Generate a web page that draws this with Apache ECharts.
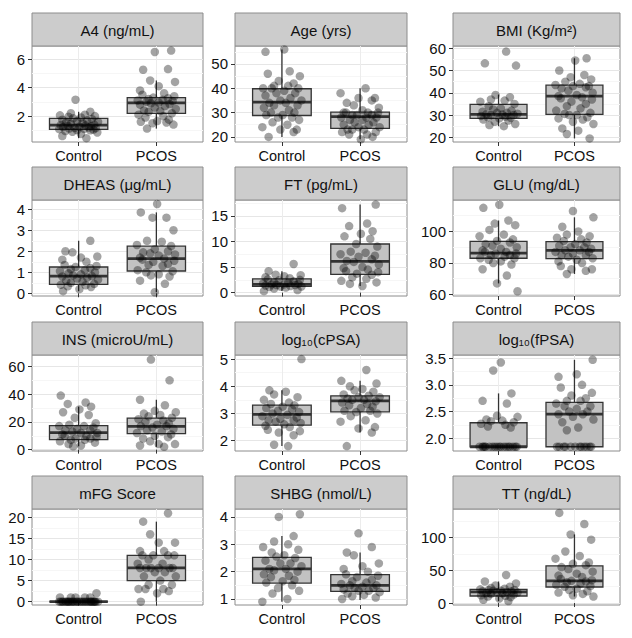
<!DOCTYPE html>
<html><head><meta charset="utf-8">
<script src="https://cdn.jsdelivr.net/npm/echarts@6/dist/echarts.min.js"></script>
<style>html,body{margin:0;padding:0;background:#fff}#c{width:632px;height:638px}</style>
</head><body><div id="c"></div>
<script>
// ---------- data ----------
const categories = ['Control', 'PCOS'];
const panelTitles = ['A4 (ng/mL)', 'Age (yrs)', 'BMI (Kg/m²)', 'DHEAS (μg/mL)', 'FT (pg/mL)', 'GLU (mg/dL)',
  'INS (microU/mL)', 'log₁₀(cPSA)', 'log₁₀(fPSA)', 'mFG Score', 'SHBG (nmol/L)', 'TT (ng/dL)'];
const yMin = [0.18, 17.9, 17.9, -0.13, -0.66, 59.0, -1.0, 1.62, 1.76, -0.8, 0.78, -3];
const yMax = [6.92, 57.4, 61.0, 4.44, 18.1, 120.0, 68.3, 5.15, 3.56, 22.0, 4.29, 144];
const yTicks = [[2, 4, 6], [20, 30, 40, 50], [20, 30, 40, 50, 60], [0, 1, 2, 3, 4], [0, 5, 10, 15], [60, 80, 100],
  [0, 20, 40, 60], [2, 3, 4, 5], [2.0, 2.5, 3.0, 3.5], [0, 5, 10, 15, 20], [1, 2, 3, 4], [0, 50, 100]];
const yTickDecimals = [0, 0, 0, 0, 0, 0, 0, 0, 1, 0, 0, 0];

// box stats per group: [lower whisker, Q1, median, Q3, upper whisker]
const A4_box = [[0.45, 1.07, 1.37, 1.84, 2.3], [1.12, 2.19, 2.93, 3.29, 4.5]];
const A4_control = [0.45, 0.6, 0.75, 0.85, 0.9, 0.95, 1.0, 1.02, 1.05, 1.08, 1.1, 1.12, 1.15, 1.18, 1.2, 1.22, 1.25, 1.3, 1.32, 1.35, 1.37, 1.4, 1.45, 1.5, 1.55, 1.6, 1.65, 1.7, 1.75, 1.8, 1.85, 1.9, 1.95, 2.0, 2.05, 2.1, 2.2, 2.3, 3.15];
const A4_pcos = [1.12, 1.4, 1.5, 1.55, 1.6, 1.65, 1.75, 1.9, 2.0, 2.1, 2.2, 2.3, 2.35, 2.4, 2.5, 2.6, 2.7, 2.8, 2.85, 2.9, 2.95, 3.0, 3.05, 3.1, 3.15, 3.2, 3.25, 3.3, 3.4, 3.5, 3.6, 3.8, 4.1, 4.4, 4.5, 5.25, 5.3, 6.5, 6.6];

const Age_box = [[20, 28.8, 34.3, 39.8, 56], [19, 23.5, 28.3, 30.2, 40]];
const Age_control = [20, 22, 23, 23, 24, 25, 26, 27, 28, 28, 29, 29, 30, 30, 31, 32, 33, 33, 34, 34, 35, 35, 36, 37, 38, 38, 39, 40, 40, 40, 41, 41, 42, 43, 45, 46, 47, 55, 56];
const Age_pcos = [19, 20, 21, 21, 22, 22, 23, 23, 23, 24, 24, 25, 25, 26, 26, 27, 27, 28, 28, 28, 29, 29, 29, 30, 30, 30, 30, 31, 32, 33, 34, 35, 36, 36, 38, 40];

const BMI_box = [[25, 28.5, 30.3, 34.8, 39.2], [19.5, 30.3, 38.5, 43.4, 55.5]];
const BMI_control = [25, 25.5, 26, 27, 27.5, 28, 28.5, 28.8, 29, 29.3, 29.6, 30, 30, 30.2, 30.4, 30.6, 31, 31, 31.5, 32, 32.5, 33, 34, 35, 36, 36.5, 37, 38, 39, 52.2, 53.2, 58.5];
const BMI_pcos = [19.5, 21.5, 23, 24, 26, 27, 28, 28.5, 29, 30, 30, 30.5, 31, 32, 33, 34, 35, 36, 37, 37.5, 38, 38.5, 39, 40, 41, 42, 42.5, 43, 43, 43.5, 44, 45, 46, 47, 48, 50, 54.5, 55.5];

const DHEAS_box = [[0.1, 0.42, 0.82, 1.25, 2.5], [0.05, 1.06, 1.65, 2.24, 3.85]];
const DHEAS_control = [0.1, 0.2, 0.3, 0.33, 0.38, 0.4, 0.45, 0.5, 0.55, 0.6, 0.65, 0.7, 0.75, 0.8, 0.82, 0.85, 0.9, 0.95, 1.0, 1.05, 1.1, 1.15, 1.2, 1.25, 1.3, 1.35, 1.5, 1.6, 1.7, 1.75, 1.95, 2.0, 2.5];
const DHEAS_pcos = [0.05, 0.45, 0.6, 0.8, 0.85, 0.9, 1.0, 1.05, 1.1, 1.3, 1.35, 1.4, 1.5, 1.55, 1.6, 1.65, 1.7, 1.8, 1.85, 1.9, 1.95, 2.0, 2.1, 2.25, 2.3, 2.45, 2.5, 3.0, 3.6, 3.6, 3.85, 4.25];

const FT_box = [[0.3, 1.22, 1.6, 2.7, 4.2], [1.3, 3.55, 6.1, 9.5, 17.2]];
const FT_control = [0.3, 0.5, 0.8, 1.0, 1.1, 1.2, 1.2, 1.3, 1.4, 1.5, 1.5, 1.6, 1.6, 1.7, 1.8, 1.9, 2.0, 2.2, 2.4, 2.5, 2.6, 2.8, 3.0, 3.2, 3.4, 3.5, 4.2, 5.6];
const FT_pcos = [1.3, 1.7, 2.0, 2.3, 2.7, 3.0, 3.5, 3.7, 4.0, 4.2, 4.5, 4.8, 5.0, 5.5, 6.0, 6.2, 6.5, 7.0, 7.2, 7.5, 7.8, 8.0, 9.0, 9.5, 10.5, 11.0, 11.5, 12.0, 13.0, 13.5, 16.5, 17.2];

const GLU_box = [[67, 83, 86.3, 93.7, 107], [73, 82.8, 88, 93.5, 109]];
const GLU_control = [62, 67, 72, 76, 79, 80, 81, 82, 83, 83, 84, 85, 85, 86, 86, 87, 87, 88, 89, 90, 91, 92, 93, 94, 95, 97, 98, 101, 104, 105, 107, 115, 117];
const GLU_pcos = [73, 75, 76, 76, 78, 80, 81, 82, 83, 84, 85, 85, 86, 87, 87, 88, 88, 89, 90, 90, 91, 92, 93, 94, 95, 96, 97, 98, 100, 103, 109, 113];

const INS_box = [[2.4, 7.2, 12.2, 17.3, 31], [2, 11.5, 16.8, 22.8, 36]];
const INS_control = [2.4, 3, 4, 5, 6, 7, 7, 8, 8, 9, 10, 10, 11, 12, 12, 13, 14, 14, 15, 16, 17, 17, 18, 19, 23, 25, 27, 29, 31, 33, 34, 39];
const INS_pcos = [2, 3, 4, 4, 6, 8, 9, 10, 11, 12, 13, 14, 15, 16, 17, 17, 18, 19, 20, 21, 22, 23, 24, 25, 26, 27, 28, 32, 36, 50, 65];

const cPSA_box = [[1.8, 2.57, 2.97, 3.31, 3.85], [2.3, 3.06, 3.46, 3.65, 4.2]];
const cPSA_control = [1.8, 1.85, 2.2, 2.3, 2.35, 2.4, 2.5, 2.55, 2.6, 2.65, 2.7, 2.75, 2.75, 2.8, 2.85, 2.9, 2.95, 3.0, 3.05, 3.1, 3.15, 3.2, 3.25, 3.3, 3.35, 3.4, 3.5, 3.6, 3.7, 3.8, 3.85, 5.0];
const cPSA_pcos = [1.8, 2.3, 2.45, 2.5, 2.7, 2.75, 2.9, 3.0, 3.05, 3.1, 3.1, 3.2, 3.25, 3.3, 3.35, 3.4, 3.45, 3.5, 3.5, 3.55, 3.6, 3.6, 3.65, 3.7, 3.8, 3.85, 3.9, 4.0, 4.1, 4.2, 4.6];

const fPSA_box = [[1.84, 1.84, 1.84, 2.29, 2.84], [1.84, 1.84, 2.45, 2.67, 3.47]];
const fPSA_control = [1.84, 1.84, 1.84, 1.84, 1.84, 1.84, 1.84, 1.84, 1.84, 1.84, 1.84, 1.84, 1.84, 1.84, 1.84, 1.84, 1.84, 1.84, 2.2, 2.22, 2.25, 2.27, 2.3, 2.32, 2.33, 2.35, 2.4, 2.42, 2.65, 2.7, 2.84, 3.27, 3.42];
const fPSA_pcos = [1.84, 1.84, 1.84, 1.84, 1.84, 1.84, 1.84, 1.84, 1.84, 1.84, 1.84, 1.84, 2.15, 2.2, 2.3, 2.35, 2.4, 2.45, 2.45, 2.5, 2.5, 2.55, 2.6, 2.6, 2.65, 2.7, 2.7, 2.75, 2.8, 2.85, 2.95, 3.0, 3.15, 3.2, 3.47];

const mFG_box = [[0, 0, 0, 0, 0], [0, 5, 8, 11, 19]];
const mFG_control = [0, 0, 0, 0, 0, 0, 0, 0, 0, 0, 0, 0, 0, 0, 0, 0, 0, 0, 0, 0, 0, 0, 0, 0, 0, 0, 0, 0, 0, 0, 1, 1, 1, 1, 1, 2];
const mFG_pcos = [0, 2, 2.5, 3, 3, 3, 4, 4, 5, 6, 6, 7, 7, 8, 8, 8, 8, 8, 8, 9, 9, 10, 11, 11, 11, 11, 12, 12, 14, 14, 16, 19, 21];

const SHBG_box = [[0.9, 1.58, 2.1, 2.52, 3.3], [0.96, 1.28, 1.5, 1.89, 2.7]];
const SHBG_control = [0.9, 1.0, 1.2, 1.3, 1.4, 1.5, 1.6, 1.65, 1.7, 1.8, 1.85, 1.9, 2.0, 2.05, 2.1, 2.1, 2.2, 2.3, 2.3, 2.4, 2.5, 2.55, 2.6, 2.7, 2.8, 2.9, 3.0, 3.1, 3.3, 4.0, 4.1];
const SHBG_pcos = [1.0, 1.05, 1.1, 1.15, 1.2, 1.25, 1.3, 1.3, 1.35, 1.4, 1.4, 1.45, 1.5, 1.5, 1.55, 1.6, 1.65, 1.7, 1.8, 1.85, 1.9, 2.0, 2.1, 2.2, 2.3, 2.6, 2.7, 2.9, 3.4];

const TT_box = [[3, 10.8, 17, 21, 33], [10, 24.6, 33.8, 57, 105]];
const TT_control = [3, 5, 7, 9, 10, 11, 12, 13, 14, 15, 15, 16, 17, 17, 18, 18, 19, 19, 20, 20, 21, 22, 23, 25, 27, 30, 33, 43];
const TT_pcos = [10, 12, 14, 16, 18, 20, 22, 25, 26, 28, 30, 32, 33, 34, 35, 37, 40, 42, 45, 48, 52, 55, 58, 60, 62, 68, 72, 79, 97, 105, 121, 138];

// horizontal jitter offsets (category units), hand-set
const jitterOffsets = [0.1, -0.21, 0.03, 0.24, -0.08, -0.17, 0.15, -0.02, 0.19, -0.25, 0.07, -0.12, 0.22, -0.05, 0.13,
  -0.2, 0.01, 0.16, -0.14, 0.09, -0.23, 0.2, -0.1, 0.05, -0.16, 0.25, -0.02, 0.11, -0.21, 0.17, -0.07, 0.03, -0.13,
  0.21, -0.24, 0.08, -0.1, 0.15, -0.04, 0.23, -0.18];

const panelBoxes = [A4_box, Age_box, BMI_box, DHEAS_box, FT_box, GLU_box, INS_box, cPSA_box, fPSA_box, mFG_box, SHBG_box, TT_box];
const panelPoints = [[A4_control, A4_pcos], [Age_control, Age_pcos], [BMI_control, BMI_pcos], [DHEAS_control, DHEAS_pcos],
  [FT_control, FT_pcos], [GLU_control, GLU_pcos], [INS_control, INS_pcos], [cPSA_control, cPSA_pcos],
  [fPSA_control, fPSA_pcos], [mFG_control, mFG_pcos], [SHBG_control, SHBG_pcos], [TT_control, TT_pcos]];

// ---------- layout / style ----------
const colLeft = [32, 235, 453], colWidth = [171, 172, 167];
const rowTop = [13, 167, 322, 476];
const stripH = 33, plotH = 96;
const FONT = '"Liberation Sans", Arial, Helvetica, sans-serif';
const TXT = '#111111';
const BOX_W = 0.75;

const grids = [], xAxes = [], yAxes = [], series = [], graphics = [];
for (let p = 0; p < 12; p++) {
  const r = Math.floor(p / 3), c = p % 3;
  const left = colLeft[c], w = colWidth[c], top = rowTop[r] + stripH;
  grids.push({ left, top, width: w, height: plotH, show: true, backgroundColor: '#fff', borderColor: '#8c8c8c', borderWidth: 1, containLabel: false });
  xAxes.push({
    gridIndex: p, type: 'value', min: 0.4, max: 2.6,
    axisLine: { show: false },
    axisTick: { show: true, length: 4, customValues: [1, 2], lineStyle: { color: '#333', width: 1 } },
    axisLabel: { customValues: [1, 2], formatter: v => categories[Math.round(v) - 1], color: TXT, fontSize: 14.5, fontFamily: FONT, margin: 6 },
    splitLine: { show: true, lineStyle: { color: '#ececec', width: 1 } }
  });
  const ticks = yTicks[p];
  const step = ticks[1] - ticks[0];
  const minor = [];
  for (let i = -1; i < ticks.length; i++) {
    const m = (i < 0 ? ticks[0] - step / 2 : ticks[i] + step / 2);
    if (m > yMin[p] && m < yMax[p]) minor.push(m);
  }
  yAxes.push({
    gridIndex: p, type: 'value', min: yMin[p], max: yMax[p],
    axisLine: { show: false },
    axisTick: { show: true, length: 4, customValues: ticks, lineStyle: { color: '#333', width: 1 } },
    axisLabel: { customValues: ticks, formatter: v => v.toFixed(yTickDecimals[p]), color: TXT, fontSize: 15, fontFamily: FONT, margin: 7 },
    splitLine: { show: true, lineStyle: { color: '#e6e6e6', width: 1 } }
  });
  yAxes.push({
    gridIndex: p, type: 'value', min: yMin[p], max: yMax[p], position: 'left',
    axisLine: { show: false }, axisTick: { show: false, customValues: minor }, axisLabel: { show: false, customValues: minor },
    splitLine: { show: true, lineStyle: { color: '#f6f6f6', width: 1 } }
  });
  const boxData = panelBoxes[p].map((b, g) => [g + 1].concat(b));
  series.push({
    type: 'custom', xAxisIndex: p, yAxisIndex: 2 * p, silent: true, z: 2,
    encode: { x: 0, y: [1, 2, 3, 4, 5] },
    data: boxData,
    renderItem: (params, api) => {
      const x = api.value(0);
      const lo = api.coord([x, api.value(1)]), q1 = api.coord([x, api.value(2)]), md = api.coord([x, api.value(3)]),
        q3 = api.coord([x, api.value(4)]), hi = api.coord([x, api.value(5)]);
      const hw = api.size([BOX_W, 0])[0] / 2;
      const stroke = '#333333';
      return {
        type: 'group', children: [
          { type: 'line', shape: { x1: lo[0], y1: lo[1], x2: q1[0], y2: q1[1] }, style: { stroke, lineWidth: 1.3 } },
          { type: 'line', shape: { x1: q3[0], y1: q3[1], x2: hi[0], y2: hi[1] }, style: { stroke, lineWidth: 1.3 } },
          { type: 'rect', shape: { x: q1[0] - hw, y: q3[1], width: 2 * hw, height: q1[1] - q3[1] }, style: { fill: '#c2c2c2', stroke, lineWidth: 1.3 } },
          { type: 'line', shape: { x1: md[0] - hw, y1: md[1], x2: md[0] + hw, y2: md[1] }, style: { stroke, lineWidth: 2.8 } }
        ]
      };
    }
  });
  panelPoints[p].forEach((vals, g) => {
    const shift = p * 5 + g * 11;
    series.push({
      type: 'scatter', xAxisIndex: p, yAxisIndex: 2 * p, silent: true, z: 3,
      symbolSize: 8.5,
      itemStyle: { color: 'rgba(0,0,0,0.45)' },
      data: vals.map((v, i) => [g + 1 + jitterOffsets[(i + shift) % jitterOffsets.length], v])
    });
  });
  graphics.push({
    type: 'rect', shape: { x: left, y: rowTop[r], width: w, height: stripH },
    style: { fill: '#cccccc', stroke: '#8c8c8c', lineWidth: 1 }, silent: true
  });
  graphics.push({
    type: 'text', x: left + w / 2, y: rowTop[r] + stripH / 2 + 1,
    style: { text: panelTitles[p], align: 'center', verticalAlign: 'middle', fill: TXT, fontSize: 15, fontFamily: FONT }, silent: true
  });
}

const chart = echarts.init(document.getElementById('c'), null, { renderer: 'svg', width: 632, height: 638 });
chart.setOption({
  animation: false,
  backgroundColor: '#ffffff',
  grid: grids, xAxis: xAxes, yAxis: yAxes, series, graphic: graphics
});
</script></body></html>
